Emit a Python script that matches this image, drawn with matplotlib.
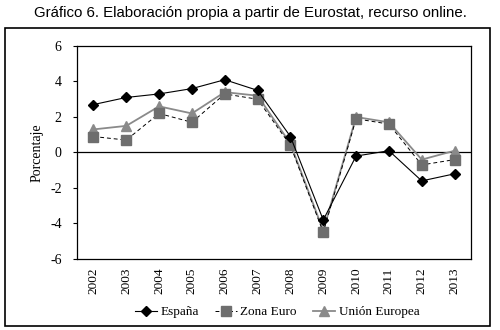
import matplotlib
matplotlib.use("Agg")
import matplotlib.pyplot as plt
from matplotlib.patches import Rectangle

anios = ["2002", "2003", "2004", "2005", "2006", "2007",
         "2008", "2009", "2010", "2011", "2012", "2013"]
espana = [2.7, 3.1, 3.3, 3.6, 4.1, 3.5, 0.9, -3.8, -0.2, 0.1, -1.6, -1.2]
zona_euro = [0.9, 0.7, 2.2, 1.7, 3.3, 3.0, 0.4, -4.5, 1.9, 1.6, -0.7, -0.4]
union_europea = [1.3, 1.5, 2.6, 2.2, 3.4, 3.2, 0.5, -4.4, 2.0, 1.7, -0.4, 0.1]

serif = "Liberation Serif"

fig = plt.figure(figsize=(5, 3.3), dpi=100)

# marco exterior
fig.patches.append(Rectangle((5 / 500, 1 - 326 / 330), 485 / 500, 298 / 330,
                             transform=fig.transFigure, fill=False,
                             edgecolor="black", linewidth=1.2))

fig.text(0.5, 1 - 13 / 330,
         "Gráfico 6. Elaboración propia a partir de Eurostat, recurso online.",
         ha="center", va="center", fontsize=10.8, family="Liberation Sans")

ax = fig.add_axes([77 / 500, 1 - 259 / 330, 394 / 500, 213 / 330])
x = list(range(len(anios)))

ax.plot(x, union_europea, color="#8a8a8a", linewidth=1.3, marker="^",
        markersize=7.5, markerfacecolor="#8a8a8a", markeredgecolor="#8a8a8a",
        label="Unión Europea", zorder=2)
ax.plot(x, zona_euro, color="black", linewidth=0.7, linestyle=(0, (4, 3)),
        marker="s", markersize=7.5, markerfacecolor="#6e6e6e",
        markeredgecolor="#6e6e6e", label="Zona Euro", zorder=3)
ax.plot(x, espana, color="black", linewidth=0.8, marker="D", markersize=5,
        label="España", zorder=4)

ax.axhline(0, color="black", linewidth=0.9, zorder=1)
ax.set_ylim(-6, 6)
ax.set_xlim(-0.5, len(anios) - 0.5)
ax.set_yticks([-6, -4, -2, 0, 2, 4, 6])
ax.set_yticklabels(["-6", "-4", "-2", "0", "2", "4", "6"], family=serif, fontsize=10)
ax.set_xticks(x)
ax.set_xticklabels(anios, rotation=90, family=serif, fontsize=9.5)
ax.tick_params(axis="y", direction="out", length=3, width=0.8, pad=8)
ax.tick_params(axis="x", length=0, pad=6)
ax.set_ylabel("Porcentaje", family=serif, fontsize=10, labelpad=5)
for s in ax.spines.values():
    s.set_linewidth(0.9)

handles, labels = ax.get_legend_handles_labels()
orden = [2, 1, 0]
fig.legend([handles[i] for i in orden], [labels[i] for i in orden],
           loc="center", bbox_to_anchor=(277 / 500, 1 - 312 / 330), ncol=3,
           frameon=False, prop={"family": serif, "size": 9.5},
           handlelength=1.7, handletextpad=0.25, columnspacing=1.2)

fig.savefig("out.png", dpi=100)
